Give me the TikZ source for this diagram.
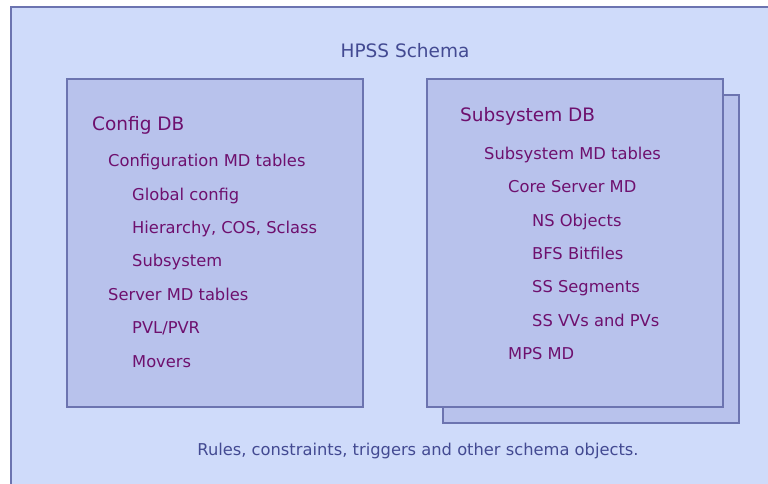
\documentclass[tikz,border=0pt]{standalone}
\usepackage{fontspec}
\setmainfont{DejaVu Sans}
\definecolor{schemabg}{HTML}{CFDBFA}
\definecolor{dbfill}{HTML}{B8C2EC}
\definecolor{dbline}{HTML}{6C74B0}
\definecolor{itemtext}{HTML}{6E106E}
\definecolor{titletext}{HTML}{434A92}
\def\ysep{33.4}
\def\lvl{24}

\begin{document}
\begin{tikzpicture}[x=1pt,y=-1pt,
    dbbox/.style={
      draw=dbline, fill=dbfill, line width=1.4pt
    },
    dbtitle/.style={
      anchor=base west, inner sep=0pt, text=itemtext,
      font=\fontsize{18.5}{22}\selectfont
    },
    item/.style={
      anchor=base west, inner sep=0pt, text=itemtext,
      font=\fontsize{16.3}{20}\selectfont
    }
  ]
    \clip (0,0) rectangle (768,483);
    \fill[white] (0,0) rectangle (768,483);
    \draw[draw=dbline, fill=schemabg, line width=1.4pt] (11,7) rectangle (790,500);

    \node[anchor=base, inner sep=0pt, text=titletext, font=\fontsize{18.5}{22}\selectfont]
      (Schema) at (405,57) {HPSS Schema};

    % config database
    \draw[dbbox] (67,79) rectangle (363,407);
    \node[dbtitle] (ConfigDB)  at (92,130) {Config DB};
    \node[item] (ConfigMD)     at (108,166.7+0*\ysep) {Configuration MD tables};
    \node[item] (GlobalCfg)    at (108+\lvl,166.7+1*\ysep) {Global config};
    \node[item] (Hierarchy)    at (108+\lvl,166.7+2*\ysep) {Hierarchy, COS, Sclass};
    \node[item] (SubsysCfg)    at (108+\lvl,166.7+3*\ysep) {Subsystem};
    \node[item] (ServerMD)     at (108,166.7+4*\ysep) {Server MD tables};
    \node[item] (PVL)          at (108+\lvl,166.7+5*\ysep) {PVL/PVR};
    \node[item] (Movers)       at (108+\lvl,166.7+6*\ysep) {Movers};

    % subsystem databases (stacked)
    \draw[dbbox] (443,95) rectangle (739,423);
    \draw[dbbox] (427,79) rectangle (723,407);
    \node[dbtitle] (SubsysDB)  at (460,121.7) {Subsystem DB};
    \node[item] (SubsysMD)     at (484,159.3+0*\ysep) {Subsystem MD tables};
    \node[item] (CoreMD)       at (484+\lvl,159.3+1*\ysep) {Core Server MD};
    \node[item] (NSObj)        at (484+2*\lvl,159.3+2*\ysep) {NS Objects};
    \node[item] (BFSBit)       at (484+2*\lvl,159.3+3*\ysep) {BFS Bitfiles};
    \node[item] (SSSeg)        at (484+2*\lvl,159.3+4*\ysep) {SS Segments};
    \node[item] (SSVV)         at (484+2*\lvl,159.3+5*\ysep) {SS VVs and PVs};
    \node[item] (MPSMD)        at (484+\lvl,159.3+6*\ysep) {MPS MD};

    \node[anchor=base, inner sep=0pt, text=titletext, font=\fontsize{16.3}{20}\selectfont]
      (Rules) at (418,455) {Rules, constraints, triggers and other schema objects.};
  \end{tikzpicture}
\end{document}
